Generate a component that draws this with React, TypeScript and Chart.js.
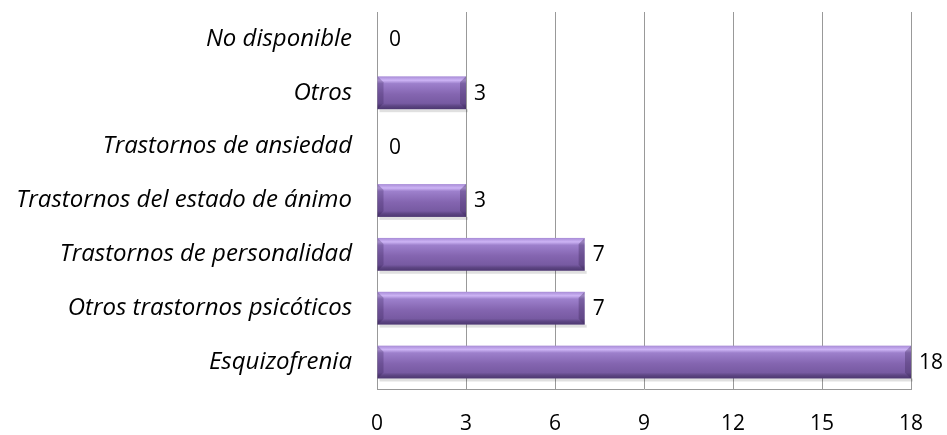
import React, { useEffect, useRef } from "react";
import { Chart, registerables } from "chart.js";

Chart.register(...registerables);

const categories = [
  "No disponible",
  "Otros",
  "Trastornos de ansiedad",
  "Trastornos del estado de ánimo",
  "Trastornos de personalidad",
  "Otros trastornos psicóticos",
  "Esquizofrenia",
];
const values = [0, 3, 0, 3, 7, 7, 18];
const xMin = 0;
const xMax = 18;
const xStep = 3;

const FONT = "'Open Sans', Lato, sans-serif";

const barPlugin = {
  id: "bevelBars",
  afterDatasetsDraw(chart: any) {
    const ctx = chart.ctx;
    const meta = chart.getDatasetMeta(0);
    ctx.save();
    meta.data.forEach((el: any, i: number) => {
      const v = values[i];
      const top = el.y - el.height / 2;
      const bot = el.y + el.height / 2;
      const left = Math.min(el.base, el.x);
      const right = Math.max(el.base, el.x);
      const w = right - left;
      if (w > 0.5) {
        ctx.fillStyle = "rgba(0,0,0,0.12)";
        ctx.fillRect(left + 2, bot, w, 3);
        const g = ctx.createLinearGradient(0, top, 0, bot);
        g.addColorStop(0, "#a78bd6");
        g.addColorStop(0.12, "#cdb4f5");
        g.addColorStop(0.22, "#9d80cc");
        g.addColorStop(0.55, "#8465b0");
        g.addColorStop(0.82, "#775aa2");
        g.addColorStop(0.9, "#5e4684");
        g.addColorStop(1, "#4c3670");
        ctx.fillStyle = g;
        ctx.fillRect(left, top, w, bot - top);
        const b = Math.min(6, w / 3);
        ctx.fillStyle = "rgba(60,40,90,0.35)";
        ctx.beginPath();
        ctx.moveTo(right, top);
        ctx.lineTo(right, bot);
        ctx.lineTo(right - b, bot - b);
        ctx.lineTo(right - b, top + b);
        ctx.closePath();
        ctx.fill();
        ctx.fillStyle = "rgba(40,20,70,0.25)";
        ctx.beginPath();
        ctx.moveTo(left, top);
        ctx.lineTo(left + b, top + b);
        ctx.lineTo(left + b, bot - b);
        ctx.lineTo(left, bot);
        ctx.closePath();
        ctx.fill();
      }
      ctx.fillStyle = "#000";
      ctx.font = "21px " + FONT;
      ctx.textAlign = "left";
      ctx.textBaseline = "middle";
      ctx.fillText(String(v), right + (v === 0 ? 12 : 8), el.y + 1);
    });
    ctx.restore();
  },
};

export default function App() {
  const ref = useRef<HTMLCanvasElement | null>(null);
  useEffect(() => {
    document.body.style.margin = "0";
    const chart = new Chart(ref.current as HTMLCanvasElement, {
      type: "bar",
      data: {
        labels: categories,
        datasets: [
          {
            data: values,
            backgroundColor: "rgba(0,0,0,0)",
            borderWidth: 0,
            barPercentage: 0.61,
            categoryPercentage: 1,
          },
        ],
      },
      options: {
        indexAxis: "y",
        animation: false,
        responsive: false,
        maintainAspectRatio: false,
        layout: { padding: { top: 12, right: 36, bottom: 0, left: 0 } },
        plugins: { legend: { display: false }, tooltip: { enabled: false } },
        scales: {
          x: {
            min: xMin,
            max: xMax,
            ticks: {
              stepSize: xStep,
              color: "#000",
              font: { family: FONT, size: 21 },
              padding: 22,
            },
            grid: { color: "#999999", drawTicks: false, lineWidth: 1 },
            border: { display: true, color: "#999999" },
            afterFit(scale: any) {
              scale.height = 46;
              scale.paddingLeft = 0;
              scale.paddingRight = 0;
            },
          },
          y: {
            ticks: {
              color: "#000",
              font: { family: FONT, size: 24, style: "italic" },
              padding: 25,
            },
            grid: { display: false, drawTicks: false },
            border: { display: true, color: "#999999" },
            afterFit(scale: any) {
              scale.width = 377;
              scale.paddingTop = 0;
              scale.paddingBottom = 0;
            },
          },
        },
      },
      plugins: [barPlugin],
    } as any);
    return () => chart.destroy();
  }, []);
  return (
    <div style={{ width: 947, height: 435 }}>
      <canvas ref={ref} width={947} height={435} />
    </div>
  );
}
